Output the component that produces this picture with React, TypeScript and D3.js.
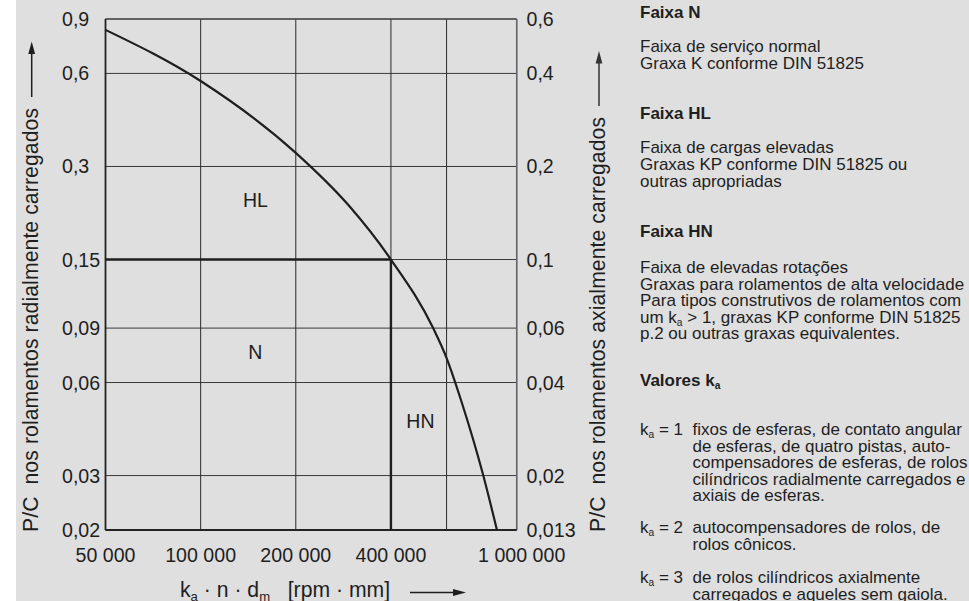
import React from "react";
import * as d3 from "d3";

// ---------- data ----------
const xTicks = [50000, 100000, 200000, 400000, 600000, 1000000];
const xTickLabels = ["50 000", "100 000", "200 000", "400 000", "", "1 000 000"];
const yTicks = [0.02, 0.03, 0.06, 0.09, 0.15, 0.3, 0.6, 0.9];
const yLabelsLeft = ["0,02", "0,03", "0,06", "0,09", "0,15", "0,3", "0,6", "0,9"];
const yLabelsRight = ["0,013", "0,02", "0,04", "0,06", "0,1", "0,2", "0,4", "0,6"];

// limit curve (k_a·n·d_m vs P/C)
const curveX = [50000, 100000, 200000, 293400, 400000, 544000, 600000, 669000, 784000, 866000];
const curveY = [0.83, 0.567, 0.332, 0.225, 0.15, 0.09, 0.072, 0.052, 0.03, 0.02];

// reference point
const refX = 400000;
const refY = 0.15;

// region labels
const regionLabels = ["HL", "N", "HN"];
const regionX = [149000, 149000, 496000];
const regionY = [0.222, 0.0717, 0.0426];

// side notes
const headN = "Faixa N";
const notesN = ["Faixa de serviço normal", "Graxa K conforme DIN 51825"];
const headHL = "Faixa HL";
const notesHL = ["Faixa de cargas elevadas", "Graxas KP conforme DIN 51825  ou", "outras apropriadas"];
const headHN = "Faixa HN";
const notesHN = [
  "Faixa de elevadas rotações",
  "Graxas para rolamentos de alta velocidade",
  "Para tipos construtivos de rolamentos com",
  "um k_a > 1, graxas KP conforme DIN 51825",
  "p.2 ou outras graxas equivalentes.",
];
const headK = "Valores k_a";
const kLabels = ["k_a = 1", "k_a = 2", "k_a = 3"];
const kNotes = [
  [
    "fixos de esferas, de contato angular",
    "de esferas, de quatro pistas, auto-",
    "compensadores de esferas, de rolos",
    "cilíndricos radialmente carregados e",
    "axiais de esferas.",
  ],
  ["autocompensadores de rolos, de", "rolos cônicos."],
  ["de rolos cilíndricos axialmente", "carregados e aqueles sem gaiola."],
];

const xTitle = "k_a · n · d_m   [rpm · mm]";
const yTitleLeft = "P/C  nos rolamentos radialmente carregados";
const yTitleRight = "P/C  nos rolamentos axialmente carregados";

// ---------- helpers ----------
function rich(text: string, subSize: string = "0.62em", shift = 4) {
  const parts = text.split(/(_[am])/);
  const out: any[] = [];
  let lowered = false;
  parts.forEach((p, i) => {
    if (p === "_a" || p === "_m") {
      out.push(
        <tspan key={i} fontSize={subSize} dy={shift}>
          {p.slice(1)}
        </tspan>
      );
      lowered = true;
    } else if (p.length) {
      out.push(
        <tspan key={i} dy={lowered ? -shift : 0}>
          {p}
        </tspan>
      );
      lowered = false;
    }
  });
  return out;
}

const W = 969;
const H = 601;
const ink = "#1e1e1e";
const FONT = "'Liberation Sans', Arial, Helvetica, sans-serif";
const pre = { whiteSpace: "pre" as const };

export default function App() {
  const x = d3.scaleLog().domain([50000, 1000000]).range([105.5, 516.7]);
  const y = d3.scaleLog().domain([0.02, 0.9]).range([530, 19]);
  const [x0, x1] = x.range();
  const [yb, yt] = y.range();

  const pts: [number, number][] = curveX.map((v, i) => [v, curveY[i]]);
  const line = d3
    .line<[number, number]>()
    .x((d) => x(d[0]))
    .y((d) => y(d[1]))
    .curve(d3.curveMonotoneX);
  const path = line(pts) || "";

  const tx = 640;
  const tx2 = 692.5;
  const lh = 16.6;

  return (
    <svg
      width={W}
      height={H}
      style={{ position: "absolute", left: 0, top: 0, fontFamily: FONT }}
    >
      <rect x={0} y={0} width={W} height={H} fill="#ffffff" />
      <rect x={16} y={0} width={W - 16} height={H} fill="#dfdfdf" />

      {/* grid */}
      {yTicks.map((t, i) => (
        <line key={"gy" + i} x1={x0} x2={x1} y1={y(t)} y2={y(t)} stroke="#3a3a3a" strokeWidth={1} />
      ))}
      {xTicks.map((t, i) => (
        <line key={"gx" + i} x1={x(t)} x2={x(t)} y1={yb} y2={yt} stroke="#2a2a2a" strokeWidth={1} />
      ))}
      {/* frame */}
      <line x1={x0} x2={x1} y1={yt} y2={yt} stroke="#555" strokeWidth={1.5} />
      <line x1={x1} x2={x1} y1={yt} y2={yb} stroke="#666" strokeWidth={1.5} />
      <line x1={x0} x2={x0} y1={yt} y2={yb} stroke="#222" strokeWidth={1.8} />
      <line x1={x0} x2={x1} y1={yb} y2={yb} stroke="#222" strokeWidth={1.8} />

      {/* reference lines */}
      <line x1={x0} x2={x(refX)} y1={y(refY)} y2={y(refY)} stroke={ink} strokeWidth={2.4} />
      <line x1={x(refX)} x2={x(refX)} y1={y(refY)} y2={yb} stroke={ink} strokeWidth={2.4} />

      {/* curve */}
      <path d={path} fill="none" stroke={ink} strokeWidth={2.2} />

      {/* region labels */}
      {regionLabels.map((l, i) => (
        <text key={"r" + i} x={x(regionX[i])} y={y(regionY[i])} textAnchor="middle" fontSize={19.5} fill={ink}>
          {l}
        </text>
      ))}

      {/* tick labels */}
      {yTicks.map((t, i) => (
        <text key={"yl" + i} x={62} y={y(t) + 7} fontSize={19.6} fill={ink}>
          {yLabelsLeft[i]}
        </text>
      ))}
      {yTicks.map((t, i) => (
        <text key={"yr" + i} x={526.5} y={y(t) + 7} fontSize={19.6} fill={ink}>
          {yLabelsRight[i]}
        </text>
      ))}
      {xTicks.map((t, i) => (
        <text key={"xl" + i} x={x(t) + (i === xTicks.length - 1 ? 5 : 0)} y={561.5} textAnchor="middle" fontSize={19.6} fill={ink}>
          {xTickLabels[i]}
        </text>
      ))}

      {/* axis titles */}
      <text x={180} y={597} fontSize={21.2} fill={ink} style={pre}>
        {rich(xTitle, "0.62em", 4)}
      </text>
      <line x1={410} x2={455} y1={592.5} y2={592.5} stroke={ink} strokeWidth={1.5} />
      <path d="M 466 592.5 L 453 589 L 453 596 Z" fill={ink} />

      <text transform="translate(37.5,532) rotate(-90)" fontSize={21.2} fill={ink} textLength={424} lengthAdjust="spacing" style={pre}>
        {yTitleLeft}
      </text>
      <line x1={31.7} x2={31.7} y1={97} y2={52} stroke={ink} strokeWidth={1.5} />
      <path d="M 31.7 41.5 L 28.3 54 L 35.1 54 Z" fill={ink} />

      <text transform="translate(605,532) rotate(-90)" fontSize={21.2} fill={ink} textLength={415} lengthAdjust="spacing" style={pre}>
        {yTitleRight}
      </text>
      <line x1={599} x2={599} y1={106} y2={62} stroke="#333" strokeWidth={1.5} />
      <path d="M 599 51 L 595.6 63.5 L 602.4 63.5 Z" fill="#333" />

      {/* side notes */}
      <g fontSize={17} fill={ink} style={pre}>
        <text x={tx} y={17.5} fontWeight="bold">{headN}</text>
        {notesN.map((s, i) => (
          <text key={"n" + i} x={tx} y={52 + i * lh}>{s}</text>
        ))}
        <text x={tx} y={119.3} fontWeight="bold">{headHL}</text>
        {notesHL.map((s, i) => (
          <text key={"hl" + i} x={tx} y={153.3 + i * lh}>{s}</text>
        ))}
        <text x={tx} y={237.3} fontWeight="bold">{headHN}</text>
        {notesHN.map((s, i) => (
          <text key={"hn" + i} x={tx} y={273 + i * lh}>{rich(s, "0.6em", 3)}</text>
        ))}
        <text x={tx} y={386} fontWeight="bold">{rich(headK, "0.6em", 3)}</text>
        {kLabels.map((k, i) => {
          const base = [435, 533, 583][i];
          return (
            <g key={"k" + i}>
              <text x={tx} y={base}>{rich(k, "0.6em", 3)}</text>
              {kNotes[i].map((s, j) => (
                <text key={j} x={tx2} y={base + j * lh}>{s}</text>
              ))}
            </g>
          );
        })}
      </g>
    </svg>
  );
}
